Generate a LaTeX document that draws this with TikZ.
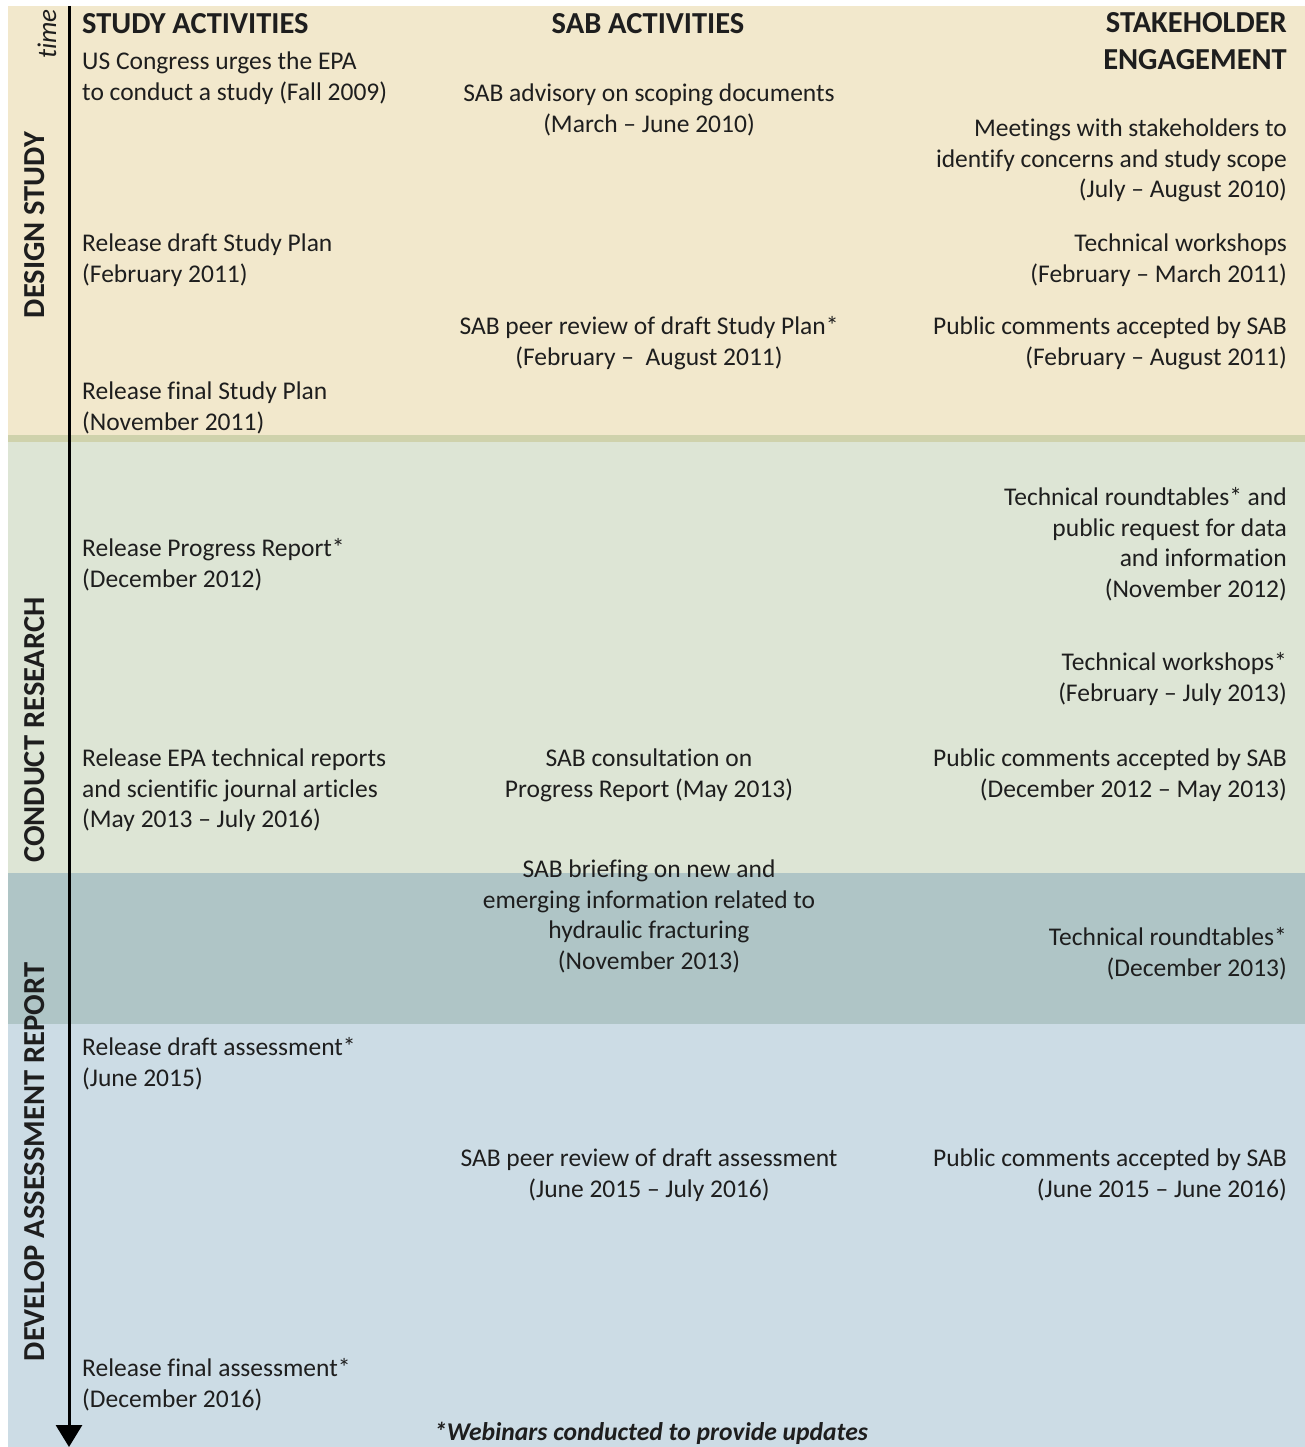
\documentclass[tikz,border=0pt]{standalone}
\usepackage{fontspec}
\setmainfont{Carlito}[Ligatures=NoCommon]
\usetikzlibrary{arrows.meta}
\definecolor{beige}{HTML}{F2E8CC}
\definecolor{band}{HTML}{CFD2AC}
\definecolor{lgreen}{HTML}{DDE5D5}
\definecolor{teal2}{HTML}{AFC5C6}
\definecolor{lblue}{HTML}{CCDCE5}
\definecolor{txtc}{HTML}{1E1E1E}
\tikzset{
  txt/.style={inner sep=0pt, font=\fontsize{25.5}{30.5}\selectfont, text=txtc, yshift=9.35pt, execute at begin node=\strut},
  lt/.style={txt, anchor=north west, align=left},
  ct/.style={txt, anchor=north, align=center},
  rt/.style={txt, anchor=north east, align=right},
  hd/.style={inner sep=0pt, font=\fontsize{30.5}{37}\selectfont\bfseries, text=txtc, execute at begin node=\strut},
  hdl/.style={hd, anchor=north west, align=left},
  hdc/.style={hd, anchor=north, align=center},
  hdr/.style={hd, anchor=north east, align=right},
  side/.style={inner sep=0pt, rotate=90, font=\fontsize{30.5}{36}\selectfont\bfseries, text=txtc},
}
\begin{document}
\begin{tikzpicture}[x=1pt,y=-1pt]
\useasboundingbox (0,0) rectangle (1305,1447);
% backgrounds
\fill[beige] (8,6) rectangle (1305,435);
\fill[band] (8,435) rectangle (1305,442);
\fill[lgreen] (8,442) rectangle (1305,873);
\fill[teal2] (8,873) rectangle (1305,1024);
\fill[lblue] (8,1024) rectangle (1305,1447);
% time axis
\coordinate (ttop) at (69,6);
\coordinate (tbot) at (69,1447);
\draw[line width=3pt, -{Triangle[width=26pt,length=22pt]}] (ttop) -- (tbot);
\node[inner sep=0pt, rotate=90, font=\fontsize{27}{30}\selectfont\itshape, text=txtc] (time) at (47,34) {time};
% side labels
\node[side] (ph1) at (35,225) {DESIGN STUDY};
\node[side] (ph2) at (35,730) {CONDUCT RESEARCH};
\node[side] (ph3) at (35,1162) {DEVELOP ASSESSMENT REPORT};
% headers
\node[hdl] (h1) at (82,7.7) {STUDY ACTIVITIES};
\node[hdc] (h2) at (648,7.7) {SAB ACTIVITIES};
\node[hdr] (h3) at (1287,12.7) {STAKEHOLDER\\ENGAGEMENT};
% study activities
\node[lt] (s1) at (82,61) {US Congress urges the EPA\\to conduct a study (Fall 2009)};
\node[lt] (s2) at (82,243) {Release draft Study Plan\\(February 2011)};
\node[lt] (s3) at (82,391) {Release final Study Plan\\(November 2011)};
\node[lt] (s4) at (82,548) {Release Progress Report*\\(December 2012)};
\node[lt] (s5) at (82,758) {Release EPA technical reports\\and scientific journal articles\\(May 2013 – July 2016)};
\node[lt] (s6) at (82,1047) {Release draft assessment*\\(June 2015)};
\node[lt] (s7) at (82,1368) {Release final assessment*\\(December 2016)};
% SAB activities
\node[ct] (a1) at (649,93) {SAB advisory on scoping documents\\(March – June 2010)};
\node[ct] (a2) at (649,326) {SAB peer review of draft Study Plan*\\(February –\ \ August 2011)};
\node[ct] (a3) at (649,758) {SAB consultation on\\Progress Report (May 2013)};
\node[ct] (a4) at (649,869) {SAB briefing on new and\\emerging information related to\\hydraulic fracturing\\(November 2013)};
\node[ct] (a5) at (649,1158) {SAB peer review of draft assessment\\(June 2015 – July 2016)};
% stakeholder engagement
\node[rt] (e1) at (1287,128) {Meetings with stakeholders to\\identify concerns and study scope\\(July – August 2010)};
\node[rt] (e2) at (1287,243) {Technical workshops\\(February – March 2011)};
\node[rt] (e3) at (1287,326) {Public comments accepted by SAB\\(February – August 2011)};
\node[rt] (e4) at (1287,497) {Technical roundtables* and\\public request for data\\and information\\(November 2012)};
\node[rt] (e5) at (1287,662) {Technical workshops*\\(February – July 2013)};
\node[rt] (e6) at (1287,758) {Public comments accepted by SAB\\(December 2012 – May 2013)};
\node[rt] (e7) at (1287,937) {Technical roundtables*\\(December 2013)};
\node[rt] (e8) at (1287,1158) {Public comments accepted by SAB\\(June 2015 – June 2016)};
% footer
\node[ct, font=\fontsize{25.6}{30}\selectfont\bfseries\itshape] (foot) at (651,1429) {*Webinars conducted to provide updates};
\end{tikzpicture}
\end{document}
